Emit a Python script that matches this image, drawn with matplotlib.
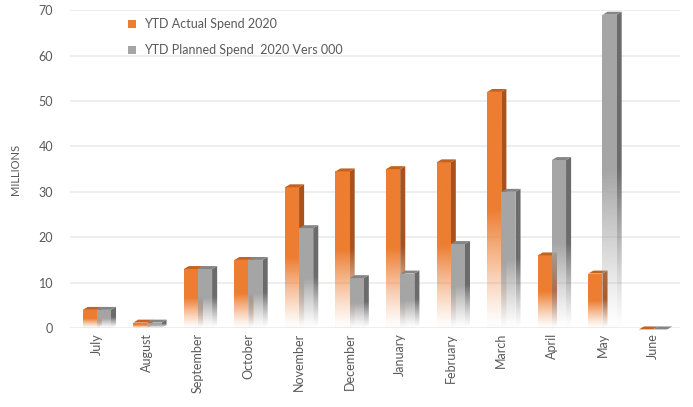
import numpy as np
import matplotlib.pyplot as plt
from matplotlib.patches import Polygon, Patch
from matplotlib.colors import to_rgb

plt.rcParams['font.family'] = ['Lato', 'DejaVu Sans']

months = ['July', 'August', 'September', 'October', 'November', 'December',
          'January', 'February', 'March', 'April', 'May', 'June']
actual = [4, 1.2, 13, 15, 31, 34.5, 35, 36.5, 52, 16, 12, -0.3]
planned = [4, 1.2, 13, 15, 22, 11, 12, 18.5, 30, 37, 69, -0.3]

series = [
    ('YTD Actual Spend 2020', actual, '#ED7D31', '#A9521C', '#C4621F'),
    ('YTD Planned Spend  2020 Vers 000', planned, '#A5A5A5', '#6B6B6B', '#858585'),
]

w = 0.28      # width of one bar front
dx = 0.10     # depth offset (x)
dy = 0.65     # depth offset (y)


def faded(ax, verts, color, z, fade=0.5):
    verts = np.array(verts)
    poly = Polygon(verts, closed=True, facecolor='none', edgecolor='none')
    ax.add_patch(poly)
    x0, x1 = verts[:, 0].min(), verts[:, 0].max()
    y0, y1 = verts[:, 1].min(), verts[:, 1].max()
    ramp = np.linspace(0, 1, 200)
    alpha = np.clip(ramp / fade, 0.04, 1) ** 1.2
    img = np.zeros((200, 1, 4))
    img[..., :3] = to_rgb(color)
    img[:, 0, 3] = alpha
    im = ax.imshow(img, extent=(x0, x1, y0, y1), origin='lower',
                   aspect='auto', zorder=z, interpolation='bilinear')
    im.set_clip_path(poly)


fig = plt.figure(figsize=(6.93, 4.07), dpi=100)
ax = fig.add_axes([0.101, 0.194, 0.880, 0.781])

x = np.arange(len(months))
z = 3
for i in x:
    for k, (name, vals, front, side, top) in enumerate(series):
        h = vals[i]
        left = i - w + k * w
        right = left + w
        if h > 0:
            faded(ax, [(right, 0), (right + dx, dy), (right + dx, h + dy), (right, h)], side, z)
            faded(ax, [(left, 0), (right, 0), (right, h), (left, h)], front, z + 0.1)
        ax.add_patch(Polygon([(left, h), (right, h), (right + dx, h + dy), (left + dx, h + dy)],
                             closed=True, facecolor=top, edgecolor='none',
                             zorder=z + 0.2, clip_on=False))
        z += 1

ax.set_xlim(-0.53, 11.53)
ax.set_ylim(0, 70)
ax.set_yticks(range(0, 71, 10))
ax.set_xticks(x)
ax.set_xticklabels(months, rotation=90)
ax.grid(axis='y', color='#EBEBEB', linewidth=1.2, zorder=0)
ax.set_axisbelow(True)
for s in ax.spines.values():
    s.set_visible(False)
ax.tick_params(length=0, colors='#595959', labelsize=9)
ax.tick_params(axis='y', pad=12)
ax.set_ylabel('MILLIONS', fontsize=8, color='#595959', labelpad=13)

handles = [Patch(facecolor=s[2], edgecolor='none') for s in series]
ax.legend(handles, [s[0] for s in series], loc='upper left',
          bbox_to_anchor=(0.077, 1.01), frameon=False, fontsize=9,
          labelcolor='#595959', handlelength=0.6, handleheight=0.6,
          handletextpad=0.7, labelspacing=1.1)

fig.savefig('out.png', dpi=100)
